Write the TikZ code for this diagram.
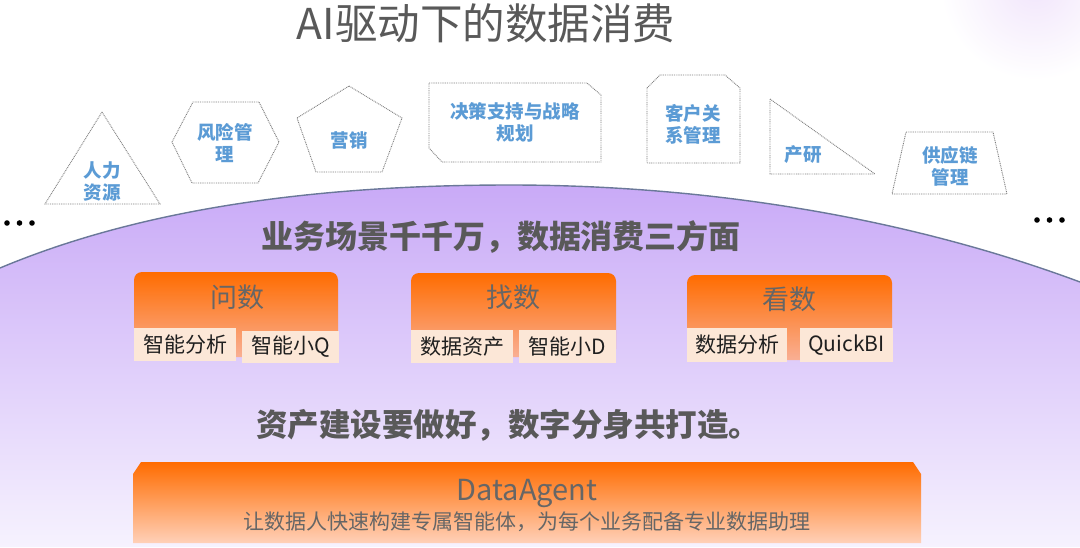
\documentclass[tikz,border=0pt]{standalone}
\usepackage{fontspec}
\setmainfont{Noto Sans CJK SC}
\definecolor{titlegrey}{HTML}{595959}
\definecolor{boxgrey}{HTML}{666666}
\definecolor{labelblue}{HTML}{5B9BD5}
\definecolor{domeTop}{HTML}{C9AAF7}
\definecolor{domeBot}{HTML}{F6F2FE}
\definecolor{domeLine}{HTML}{6A7899}
\definecolor{orTop}{HTML}{FF6C00}
\definecolor{orBot}{HTML}{F9AF94}
\definecolor{barBot}{HTML}{FFD0B8}
\definecolor{subFill}{HTML}{FCE7D7}
\definecolor{dotline}{HTML}{7F7F7F}
\definecolor{glow}{HTML}{F1E5FB}
\tikzset{
  shapeline/.style={draw=dotline, line width=0.9pt, dash pattern=on 0.9pt off 0.9pt},
  bluelabel/.style={font=\fontsize{18.5}{22}\selectfont\bfseries, text=labelblue, align=center, inner sep=0pt},
  heading/.style={font=\fontsize{32}{36}\selectfont\bfseries, text=titlegrey, inner sep=0pt},
  boxtitle/.style={font=\fontsize{27}{30}\selectfont, text=boxgrey, inner sep=0pt},
  subbox/.style={fill=subFill, inner sep=0pt, font=\fontsize{21}{24}\selectfont, text=black!88},
  orangebox/.style={rounded corners=8pt, top color=orTop, bottom color=orBot},
  dotmark/.style={fill=black}
}
\begin{document}
\begin{tikzpicture}[x=1pt,y=-1pt]
\useasboundingbox (0,0) rectangle (1080,547);
\fill[white] (0,0) rectangle (1080,547);
\begin{scope}
  \clip (0,0) rectangle (1080,547);
  \shade[inner color=glow, outer color=white] (1035,-15) circle (95);
\end{scope}

% dome
\shade[top color=domeTop, bottom color=domeBot]
  (0,268) .. controls (150,205) and (330,185) .. (510,185)
  .. controls (700,185) and (900,215) .. (1080,282)
  -- (1080,547) -- (0,547) -- cycle;
\draw[domeLine, line width=1.4pt]
  (0,268) .. controls (150,205) and (330,185) .. (510,185)
  .. controls (700,185) and (900,215) .. (1080,282);

% title
\node[font=\fontsize{42.5}{46}\selectfont, text=titlegrey, inner sep=0pt] (title) at (486,23) {AI驱动下的数据消费};

% top shapes
\draw[shapeline] (102,112) -- (160,204) -- (45,204) -- cycle;
\node[bluelabel] (hr) at (102,181) {人力\\资源};

\draw[shapeline] (172,142) -- (193,102) -- (259,102) -- (279,142) -- (258,183) -- (192,183) -- cycle;
\node[bluelabel] (risk) at (225,143) {风险管\\理};

\draw[shapeline] (349,86) -- (402,118) -- (382,172) -- (316,172) -- (297,118) -- cycle;
\node[bluelabel] (mkt) at (349,140) {营销};

\draw[shapeline] (429,83) -- (587,83) -- (601,95) -- (601,162) -- (442,162) -- (429,148) -- cycle;
\node[bluelabel] (dss) at (515,122.5) {决策支持与战略\\规划};

\draw[shapeline] (647,88) -- (660,75) -- (725,75) -- (740,88) -- (740,163) -- (647,163) -- cycle;
\node[bluelabel] (crm) at (693,124) {客户关\\系管理};

\draw[shapeline] (770,99) -- (875,174) -- (770,174) -- cycle;
\node[bluelabel] (rd) at (803,155) {产研};

\draw[shapeline] (906,132) -- (993,132) -- (1007,194) -- (892,194) -- cycle;
\node[bluelabel] (scm) at (950,166.5) {供应链\\管理};

% ellipsis dots
\foreach \x in {7,19.5,32} \fill[dotmark] (\x,223) circle (2.8);
\foreach \x in {1037,1049.5,1062} \fill[dotmark] (\x,220) circle (2.8);

% heading 1
\node[heading] (h1) at (501,237) {业务场景千千万，数据消费三方面};

% box 1
\shade[orangebox] (134,272) rectangle (338,357);
\node[boxtitle] (b1) at (237,297) {问数};
\node[subbox, minimum width=102, minimum height=33] (s11) at (185,344.5) {智能分析};
\node[subbox, minimum width=97, minimum height=32] (s12) at (290.5,347) {智能小Q};

% box 2
\shade[orangebox] (411,273) rectangle (616,357);
\node[boxtitle] (b2) at (513,297) {找数};
\node[subbox, minimum width=102, minimum height=33] (s21) at (462,346.5) {数据资产};
\node[subbox, minimum width=97, minimum height=33] (s22) at (567.5,346.5) {智能小D};

% box 3
\shade[orangebox] (687,275) rectangle (892,360);
\node[boxtitle] (b3) at (789,299) {看数};
\node[subbox, minimum width=100, minimum height=34] (s31) at (737,345) {数据分析};
\node[subbox, minimum width=93, minimum height=34] (s32) at (846.5,345) {QuickBI};

% heading 2
\node[heading, font=\fontsize{31.5}{36}\selectfont\bfseries] (h2) at (508,425) {资产建设要做好，数字分身共打造。};

% bottom bar
\shade[top color=orTop, bottom color=barBot] (133,543) -- (133,474) -- (141,462) -- (913,462) -- (921,474) -- (921,543) -- cycle;
\node[font=\fontsize{29}{32}\selectfont, text=boxgrey, inner sep=0pt] (da) at (527,493) {DataAgent};
\node[font=\fontsize{21}{24}\selectfont, text=boxgrey, inner sep=0pt] (dasub) at (527,522) {让数据人快速构建专属智能体，为每个业务配备专业数据助理};
\end{tikzpicture}
\end{document}
